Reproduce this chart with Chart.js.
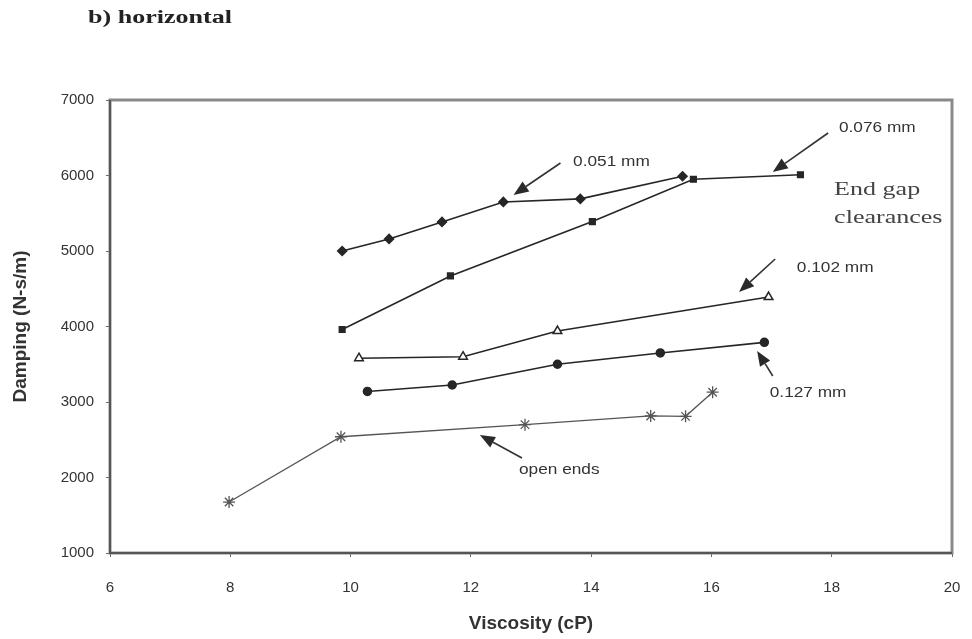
<!DOCTYPE html>
<html>
<head>
<meta charset="utf-8">
<script src="https://cdn.jsdelivr.net/npm/chart.js@4/dist/chart.umd.min.js"></script>
<style>
  html, body { margin: 0; padding: 0; background: #fff; overflow: hidden; }
  #wrap { width: 972px; height: 639px; position: relative; }
  canvas { display: block; }
</style>
</head>
<body>
<div id="wrap"><canvas id="myChart" width="972" height="639"></canvas></div>
<script>
// viscosity (cP) / damping (N-s/m), one pair of arrays per end gap
var visc051 = [9.86, 10.64, 11.52, 12.54, 13.82, 15.52];
var damp051 = [5000, 5160, 5385, 5650, 5690, 5990];

var visc076 = [9.86, 11.66, 14.02, 15.70, 17.48];
var damp076 = [3960, 4670, 5390, 5950, 6010];

var visc102 = [10.14, 11.87, 13.44, 16.95];
var damp102 = [3580, 3600, 3940, 4390];

var visc127 = [10.28, 11.69, 13.44, 15.15, 16.88];
var damp127 = [3140, 3225, 3500, 3650, 3790];

var viscOpen = [7.98, 9.84, 12.90, 14.99, 15.57, 16.02];
var dampOpen = [1675, 2540, 2700, 2815, 2810, 3130];

var xTicks = [6, 8, 10, 12, 14, 16, 18, 20];
var yTicks = [1000, 2000, 3000, 4000, 5000, 6000, 7000];

// callout arrows (tail -> head) and their labels, in data units
var callouts = [
    { text: "0.051 mm", tail: [13.49, 6166], head: [12.71, 5742], at: [13.70, 6180] },
    { text: "0.076 mm", tail: [17.94, 6563], head: [17.02, 6046], at: [18.12, 6629] },
    { text: "0.102 mm", tail: [17.06, 4894], head: [16.46, 4457], at: [17.42, 4775] },
    { text: "0.127 mm", tail: [17.02, 3344], head: [16.76, 3676], at: [16.97, 3119] },
    { text: "open ends", tail: [12.85, 2258], head: [12.15, 2563], at: [12.80, 2099] }
];

function pts(xs, ys) {
    return xs.map(function (x, i) { return { x: x, y: ys[i] }; });
}

function series(label, xs, ys, style, extra) {
    var ds = {
        label: label,
        data: pts(xs, ys),
        borderColor: '#262626',
        backgroundColor: '#262626',
        borderWidth: 1.6,
        pointStyle: style,
        pointRadius: 4,
        pointBorderWidth: 1.5,
        pointBorderColor: '#262626',
        pointBackgroundColor: '#262626',
        tension: 0
    };
    for (var k in extra) ds[k] = extra[k];
    return ds;
}

// the scanned figure is a bit wider than tall, so text is stretched sideways
function wideText(c, text, x, y, sx) {
    c.save();
    c.translate(x, y);
    c.scale(sx, 1);
    c.fillText(text, 0, 0);
    c.restore();
}

var decorations = {
    id: 'decorations',
    beforeDraw: function (chart) {
        var c = chart.ctx;
        c.save();
        c.fillStyle = '#fff';
        c.fillRect(0, 0, chart.width, chart.height);
        c.restore();
    },
    afterDatasetsDraw: function (chart) {
        var c = chart.ctx, xs = chart.scales.x, ys = chart.scales.y, a = chart.chartArea;
        c.save();
        // frame around the plot
        c.strokeStyle = '#8a8a8a';
        c.lineWidth = 3;
        c.strokeRect(a.left, a.top, a.right - a.left, a.bottom - a.top);
        c.strokeStyle = '#555';
        c.lineWidth = 2;
        c.beginPath();
        c.moveTo(a.left, a.top);
        c.lineTo(a.left, a.bottom);
        c.lineTo(a.right, a.bottom);
        c.stroke();

        // callouts
        callouts.forEach(function (o) {
            var tx = xs.getPixelForValue(o.tail[0]), ty = ys.getPixelForValue(o.tail[1]);
            var hx = xs.getPixelForValue(o.head[0]), hy = ys.getPixelForValue(o.head[1]);
            var ang = Math.atan2(hy - ty, hx - tx);
            var len = 15, half = 6;
            var bx = hx - len * Math.cos(ang), by = hy - len * Math.sin(ang);
            c.strokeStyle = '#333';
            c.lineWidth = 1.6;
            c.beginPath();
            c.moveTo(tx, ty);
            c.lineTo(bx, by);
            c.stroke();
            c.fillStyle = '#2a2a2a';
            c.beginPath();
            c.moveTo(hx, hy);
            c.lineTo(bx + half * Math.sin(ang), by - half * Math.cos(ang));
            c.lineTo(bx - half * Math.sin(ang), by + half * Math.cos(ang));
            c.closePath();
            c.fill();
            c.font = '15px Arimo, "Liberation Sans", Arial, sans-serif';
            c.fillStyle = '#333';
            c.textAlign = 'left';
            c.textBaseline = 'middle';
            wideText(c, o.text, xs.getPixelForValue(o.at[0]), ys.getPixelForValue(o.at[1]), 1.15);
        });

        // side note
        c.font = '19px "Liberation Serif", "Times New Roman", serif';
        c.fillStyle = '#444';
        c.textAlign = 'left';
        c.textBaseline = 'middle';
        wideText(c, 'End gap', xs.getPixelForValue(18.04), ys.getPixelForValue(5808), 1.37);
        wideText(c, 'clearances', xs.getPixelForValue(18.04), ys.getPixelForValue(5437), 1.37);

        // caption
        c.font = 'bold 19px "Liberation Serif", "Times New Roman", serif';
        c.fillStyle = '#222';
        wideText(c, 'b) horizontal', 88, 18, 1.37);
        c.restore();
    }
};

var tickFont = { family: '"Liberation Sans", Arial, sans-serif', size: 15 };
var titleFont = { family: '"Liberation Sans", Arial, sans-serif', size: 19, weight: 'bold' };
var plain = function (v) { return String(v); };

var ctx = document.getElementById('myChart').getContext('2d');
var myChart = new Chart(ctx, {
    type: 'line',
    data: {
        datasets: [
            series('0.051 mm', visc051, damp051, 'rectRot', { pointRadius: 4.5 }),
            series('0.076 mm', visc076, damp076, 'rect', { pointRadius: 4 }),
            series('0.102 mm', visc102, damp102, 'triangle', { pointRadius: 5, pointBackgroundColor: '#fff' }),
            series('0.127 mm', visc127, damp127, 'circle', { pointRadius: 4 }),
            series('open ends', viscOpen, dampOpen, 'star', {
                borderColor: '#555', pointBorderColor: '#555', borderWidth: 1.3, pointRadius: 6, pointBorderWidth: 1.3
            })
        ]
    },
    options: {
        responsive: false,
        animation: false,
        layout: { padding: { left: 0, top: 100, right: 20, bottom: 0 } },
        plugins: { legend: { display: false }, tooltip: { enabled: false } },
        scales: {
            x: {
                type: 'linear',
                min: 6, max: 20,
                afterBuildTicks: function (s) { s.ticks = xTicks.map(function (v) { return { value: v }; }); },
                afterFit: function (s) { s.height = 86; s.paddingLeft = 0; s.paddingRight = 0; },
                grid: { drawOnChartArea: false, tickLength: 4, color: '#666' },
                border: { display: false },
                ticks: { color: '#333', font: tickFont, padding: 22, callback: plain },
                title: { display: true, text: 'Viscosity (cP)', color: '#333', font: titleFont, padding: { top: 0, bottom: 4 } }
            },
            y: {
                type: 'linear',
                min: 1000, max: 7000,
                afterBuildTicks: function (s) { s.ticks = yTicks.map(function (v) { return { value: v }; }); },
                afterFit: function (s) { s.width = 110; },
                grid: { drawOnChartArea: false, tickLength: 4, color: '#666' },
                border: { display: false },
                ticks: { color: '#333', font: tickFont, padding: 12, callback: plain },
                title: { display: true, text: 'Damping (N-s/m)', color: '#333', font: titleFont, padding: { top: 9, bottom: 0 } }
            }
        }
    },
    plugins: [decorations]
});
</script>
</body>
</html>
